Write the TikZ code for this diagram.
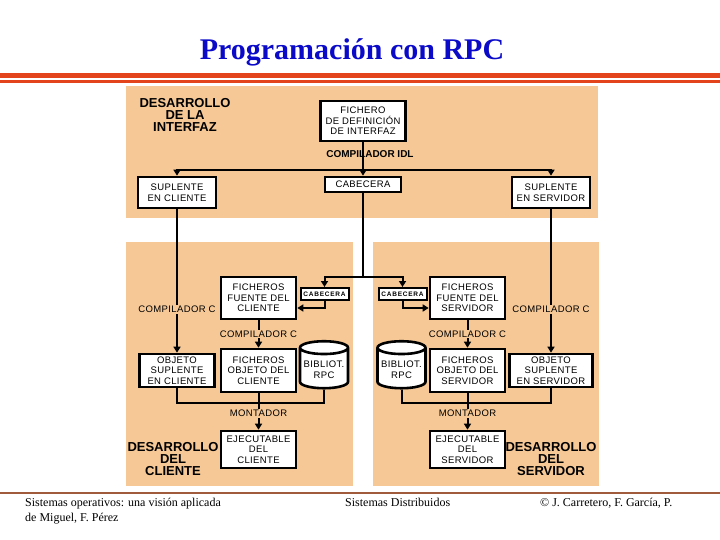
\documentclass[tikz,border=0pt]{standalone}
\usepackage{fontspec}
\setmainfont{Liberation Serif}
\setsansfont{Liberation Sans}
\newfontfamily\boxfont[LetterSpace=4]{Liberation Sans}
\newfontfamily\tagfont[LetterSpace=12]{Liberation Sans}
\usetikzlibrary{arrows.meta,positioning,shapes.geometric}
\definecolor{peach}{RGB}{245,200,150}
\definecolor{rulered}{RGB}{228,68,28}
\definecolor{footbrown}{RGB}{160,90,60}
\definecolor{titleblue}{RGB}{10,10,200}

\begin{document}
\begin{tikzpicture}[
  x=1pt,y=-1pt,
  >={Triangle[length=6pt,width=7pt]},
  panel/.style={fill=peach},
  file/.style={draw,line width=2.6pt,fill=white,inner sep=1pt,align=center,
    font=\boxfont\fontsize{9.5}{10.5}\selectfont},
  tag/.style={draw,line width=2pt,fill=white,inner sep=0pt,
    minimum width=48pt,minimum height=12pt,
    font=\tagfont\bfseries\fontsize{6.5}{7}\selectfont},
  lib/.style={cylinder,shape border rotate=90,aspect=0.3,draw,line width=2.6pt,
    fill=white,align=center,minimum width=48pt,minimum height=47pt,inner sep=1pt,
    font=\boxfont\fontsize{9.5}{10.5}\selectfont},
  stage/.style={fill=peach,inner sep=1pt,font=\boxfont\fontsize{9.5}{10}\selectfont},
  phase/.style={align=center,font=\sffamily\bfseries\fontsize{13}{12}\selectfont},
  foot/.style={anchor=base west,inner sep=0pt,font=\fontsize{12}{14}\selectfont},
  flow/.style={->,line width=2pt},
  link/.style={line width=2pt}
]
  \useasboundingbox (0,0) rectangle (720,540);

  % rules and panels
  \draw[rulered,line width=5pt] (0,75.5) -- (720,75.5);
  \draw[rulered,line width=2.5pt] (0,81.5) -- (720,81.5);
  \draw[footbrown,line width=1.2pt] (0,493) -- (720,493);
  \fill[panel] (126,86) rectangle (598,218);
  \fill[panel] (126,242) rectangle (353,486);
  \fill[panel] (373,242) rectangle (599,486);

  \node[font=\bfseries\fontsize{30}{30}\selectfont,text=titleblue,anchor=base]
    (title) at (352,60) {Programación con RPC};

  % interface
  \node[phase] (devIdl) at (185,115) {DESARROLLO\\DE LA\\INTERFAZ};
  \node[file,minimum width=85pt,minimum height=40pt] (idl) at (363,121)
    {FICHERO\\DE DEFINICIÓN\\DE INTERFAZ};
  \node[font=\sffamily\bfseries\fontsize{10}{10}\selectfont] (idlc) at (370,154)
    {COMPILADOR IDL};
  \node[file,minimum width=78pt,minimum height=31pt] (supCli) at (177,192.5)
    {SUPLENTE\\EN CLIENTE};
  \node[file,minimum width=76pt,minimum height=15pt] (cab) at (363,184.5) {CABECERA};
  \node[file,minimum width=78pt,minimum height=31pt] (supSrv) at (551,192.5)
    {SUPLENTE\\EN SERVIDOR};

  % client
  \node[file,minimum width=75pt,minimum height=42pt] (srcCli) at (258.5,298)
    {FICHEROS\\FUENTE DEL\\CLIENTE};
  \node[tag] (cabCli) at (324.5,294) {CABECERA};
  \node[file,minimum width=75pt,minimum height=33pt] (objSupCli) at (177,370.5)
    {OBJETO\\SUPLENTE\\EN CLIENTE};
  \node[file,minimum width=75pt,minimum height=43pt] (objCli) at (258.5,370.5)
    {FICHEROS\\OBJETO DEL\\CLIENTE};
  \node[lib] (libCli) at (324,369.5) {BIBLIOT.\\RPC};
  \node[file,minimum width=75pt,minimum height=37pt] (exeCli) at (258.5,449.5)
    {EJECUTABLE\\DEL\\CLIENTE};
  \node[phase] (devCli) at (173,459) {DESARROLLO\\DEL\\CLIENTE};

  % server
  \node[tag] (cabSrv) at (402.5,294) {CABECERA};
  \node[file,minimum width=75pt,minimum height=42pt] (srcSrv) at (467.5,298)
    {FICHEROS\\FUENTE DEL\\SERVIDOR};
  \node[lib] (libSrv) at (401.5,369.5) {BIBLIOT.\\RPC};
  \node[file,minimum width=75pt,minimum height=43pt] (objSrv) at (467.5,370.5)
    {FICHEROS\\OBJETO DEL\\SERVIDOR};
  \node[file,minimum width=83pt,minimum height=33pt] (objSupSrv) at (551,370.5)
    {OBJETO\\SUPLENTE\\EN SERVIDOR};
  \node[file,minimum width=75pt,minimum height=37pt] (exeSrv) at (467.5,449.5)
    {EJECUTABLE\\DEL\\SERVIDOR};
  \node[phase] (devSrv) at (551,459) {DESARROLLO\\DEL\\SERVIDOR};

  % footer
  \node[foot] (book) at (25,506) {Sistemas operativos: una visión aplicada};
  \node[foot] (bookAuth) at (25,521) {de Miguel, F. Pérez};
  \node[foot] (course) at (345,506) {Sistemas Distribuidos};
  \node[foot] (authors) at (540,506) {© J. Carretero, F. García, P.};

  % connectors
  \coordinate (bus) at (363,170);
  \draw[link] (idl) -- (bus);
  \draw[flow] (bus) -| (supCli);
  \draw[flow] (bus) -- (cab);
  \draw[flow] (bus) -| (supSrv);

  \coordinate (split) at (363,277);
  \draw[link] (cab) -- (split);
  \draw[flow] (split) -| (cabCli);
  \draw[flow] (split) -| (cabSrv);
  \draw[flow] (cabCli) |- ([yshift=-10pt]srcCli.east);
  \draw[flow] (cabSrv) |- ([yshift=-10pt]srcSrv.west);

  \draw[flow] (supCli) -- node[stage,pos=.7]{COMPILADOR C} (objSupCli);
  \draw[flow] (srcCli) -- node[stage]{COMPILADOR C} (objCli);
  \draw[flow] (supSrv) -- node[stage,pos=.7]{COMPILADOR C} (objSupSrv);
  \draw[flow] (srcSrv) -- node[stage]{COMPILADOR C} (objSrv);

  \coordinate (joinCli) at (258.5,403);
  \draw[link] (objSupCli) |- (joinCli);
  \draw[link] (libCli) |- (joinCli);
  \draw[flow] (objCli) -- node[stage,pos=.55]{MONTADOR} (exeCli);

  \coordinate (joinSrv) at (467.5,403);
  \draw[link] (libSrv) |- (joinSrv);
  \draw[link] (objSupSrv) |- (joinSrv);
  \draw[flow] (objSrv) -- node[stage,pos=.55]{MONTADOR} (exeSrv);
\end{tikzpicture}
\end{document}
